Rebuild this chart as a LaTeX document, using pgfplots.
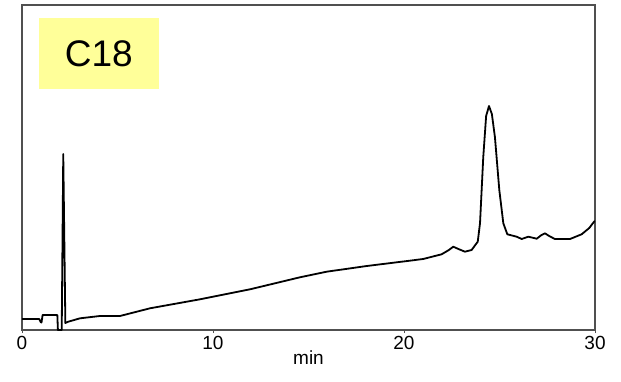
\documentclass[border=0pt]{standalone}
\usepackage{fontspec}
\setmainfont{Liberation Sans}
\usepackage{pgfplots}
\pgfplotsset{compat=1.18}
\definecolor{boxyellow}{HTML}{FFFF99}
\definecolor{framegray}{HTML}{505050}
\begin{document}
\begin{tikzpicture}
\useasboundingbox (-22pt,-51pt) rectangle (599pt,330pt);
\begin{axis}[
  at={(0pt,0pt)}, anchor=south west,
  scale only axis, width=573pt, height=325pt,
  xmin=0, xmax=30, ymin=0, ymax=325,
  xtick={0,10,20,30}, ytick=\empty,
  xtick pos=bottom, tick align=outside,
  major tick length=3pt,
  axis line style={framegray, line width=1.3pt},
  tick style={framegray, line width=1pt},
  /pgf/number format/assume math mode=true,
  tick label style={font=\fontsize{19}{19}\selectfont},
  xticklabel style={yshift=0pt},
  xlabel={min},
  xlabel style={font=\fontsize{19}{19}\selectfont, yshift=6pt},
]
\addplot[black, line width=1.8pt, line join=round] coordinates {
(0,11) (0.9,11) (0.98,8) (1.02,7.5) (1.08,15) (1.85,15) (1.88,0) (2.08,0)
(2.16,176) (2.27,7) (2.42,8.3) (3.04,11.7) (4.08,14) (5.13,14) (6.7,21.7)
(9.32,30.7) (11.94,40.7) (14.55,52.7) (15.95,58.3) (18.05,64) (20.3,69.3)
(21.0,71) (21.97,75.7) (22.35,80) (22.58,83.3) (22.85,81) (23.19,78.3)
(23.54,80) (23.86,88.3) (23.98,106.7) (24.15,173) (24.3,214) (24.45,224)
(24.6,216) (24.76,193) (24.99,140) (25.2,106.7) (25.41,95.7) (25.9,93.3)
(26.16,91) (26.51,93.3) (26.95,91.3) (27.2,95) (27.38,96.7) (27.6,94)
(27.9,91) (28.69,91) (29.3,95.7) (29.7,102) (29.95,108.3) (30,109)
};
\node[fill=boxyellow, minimum width=120pt, minimum height=71pt,
      font=\fontsize{37}{37}\selectfont, inner sep=0pt]
      at (rel axis cs:0.134,0.851) {\raisebox{-3pt}{C18}};
\end{axis}
\end{tikzpicture}
\end{document}
